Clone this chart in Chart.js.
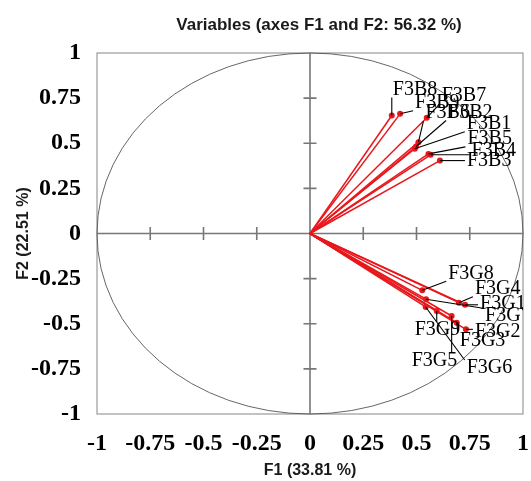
<!DOCTYPE html>
<html>
<head>
<meta charset="utf-8">
<title>Variables (axes F1 and F2)</title>
<script src="https://cdn.jsdelivr.net/npm/chart.js@4.4.1/dist/chart.umd.min.js"></script>
<style>
    html, body { margin: 0; padding: 0; background: #fff; }
    #wrap { width: 531px; height: 481px; }
</style>
</head>
<body>
<div id="wrap"><canvas id="circleChart"></canvas></div>
<script>
// loadings
const variableNames = ['F3B8', 'F3B9', 'F3B7', 'F3B6', 'F3B2', 'F3B1', 'F3B5', 'F3B4', 'F3B3',
                       'F3G8', 'F3G4', 'F3G1', 'F3G7', 'F3G6', 'F3G9', 'F3G5', 'F3G3', 'F3G2'];
const f1Values = [0.384, 0.423, 0.548, 0.509, 0.498, 0.492, 0.556, 0.566, 0.610,
                  0.527, 0.699, 0.728, 0.545, 0.543, 0.595, 0.665, 0.689, 0.732];
const f2Values = [0.654, 0.663, 0.641, 0.506, 0.482, 0.470, 0.441, 0.436, 0.404,
                  -0.315, -0.383, -0.395, -0.364, -0.407, -0.429, -0.457, -0.494, -0.531];
const axisTicks = [-1, -0.75, -0.5, -0.25, 0, 0.25, 0.5, 0.75, 1];

// where each name sits relative to its point (px: text left, text middle)
const labelOffsets = [[1, -26], [15, -11], [15, -22], [7, -29], [32, -34], [52, -25], [39, -15], [41, -4], [27, 0],
                      [26, -17], [16, -14], [15, -1], [59, 17], [41, 61], [-22, 19], [-40, 45], [3, 18], [9, 2]];

const RED = '#e8171b';
const serifBold = { family: '"Liberation Serif", "Times New Roman", serif', size: 24, weight: 'bold' };
const sansBold = { family: '"Liberation Sans", Arial, sans-serif', size: 16, weight: 'bold' };

const datasets = variableNames.map((name, i) => ({
    label: name,
    data: [{ x: 0, y: 0 }, { x: f1Values[i], y: f2Values[i] }],
    showLine: true,
    borderColor: RED,
    borderWidth: 1.5,
    pointRadius: [0, 3],
    pointBackgroundColor: RED,
    pointBorderColor: RED,
    pointBorderWidth: 0
}));

const circleDecor = {
    id: 'circleDecor',
    beforeDatasetsDraw(chart) {
        const { ctx, chartArea: a, scales: { x, y } } = chart;
        const cx = x.getPixelForValue(0), cy = y.getPixelForValue(0);
        ctx.save();

        // frame
        ctx.strokeStyle = '#9a9a9a';
        ctx.lineWidth = 1.2;
        ctx.strokeRect(a.left, a.top, a.right - a.left, a.bottom - a.top);

        // unit circle
        ctx.strokeStyle = '#555';
        ctx.lineWidth = 0.9;
        ctx.beginPath();
        ctx.ellipse(cx, cy, x.getPixelForValue(1) - cx, cy - y.getPixelForValue(1), 0, 0, Math.PI * 2);
        ctx.stroke();

        // axes through the origin with tick marks
        ctx.strokeStyle = '#777';
        ctx.lineWidth = 1.6;
        ctx.beginPath();
        ctx.moveTo(a.left, cy); ctx.lineTo(a.right, cy);
        ctx.moveTo(cx, a.top); ctx.lineTo(cx, a.bottom);
        axisTicks.forEach(v => {
            if (v === 0 || Math.abs(v) === 1) return;
            const px = x.getPixelForValue(v), py = y.getPixelForValue(v);
            ctx.moveTo(px, cy - 6.5); ctx.lineTo(px, cy + 6.5);
            ctx.moveTo(cx - 6.5, py); ctx.lineTo(cx + 6.5, py);
        });
        ctx.stroke();
        ctx.restore();
    },
    afterDatasetsDraw(chart) {
        const { ctx, chartArea: a, scales: { x, y } } = chart;
        ctx.save();
        ctx.beginPath();
        ctx.rect(a.left, a.top, a.right - a.left, a.bottom - a.top);
        ctx.clip();
        ctx.font = '20px "Liberation Serif", "Times New Roman", serif';
        ctx.textBaseline = 'middle';
        ctx.textAlign = 'left';

        variableNames.forEach((name, i) => {
            const px = x.getPixelForValue(f1Values[i]);
            const py = y.getPixelForValue(f2Values[i]);
            const tx = px + labelOffsets[i][0];
            const ty = py + labelOffsets[i][1];
            const w = ctx.measureText(name).width;
            // leader to the nearest edge of the text box
            const lx = Math.min(Math.max(px, tx - 2), tx + w);
            const ly = Math.min(Math.max(py, ty - 8), ty + 8);
            if (Math.hypot(lx - px, ly - py) > 5) {
                ctx.strokeStyle = '#000';
                ctx.lineWidth = 1.1;
                ctx.beginPath();
                ctx.moveTo(px, py);
                ctx.lineTo(lx, ly);
                ctx.stroke();
            }
            ctx.fillStyle = '#000';
            ctx.fillText(name, tx, ty);
        });
        ctx.restore();
    },
    afterDraw(chart) {
        const { ctx } = chart;
        ctx.save();
        ctx.font = 'bold 17px "Liberation Sans", Arial, sans-serif';
        ctx.fillStyle = '#1a1a1a';
        ctx.textAlign = 'center';
        ctx.textBaseline = 'middle';
        ctx.fillText('Variables (axes F1 and F2: 56.32 %)', 319, 25);
        ctx.restore();
    }
};

function fixedTicks(scale) {
    scale.ticks = axisTicks.map(v => ({ value: v }));
}

function tickText(value) {
    return String(Math.round(value * 100) / 100);
}

new Chart(document.getElementById('circleChart'), {
    type: 'scatter',
    data: { datasets: datasets },
    options: {
        responsive: true,
        maintainAspectRatio: false,
        animation: false,
        layout: { padding: { top: 53, right: 8, left: 0, bottom: 0 } },
        plugins: {
            legend: { display: false },
            tooltip: { enabled: false }
        },
        scales: {
            x: {
                type: 'linear',
                min: -1,
                max: 1,
                afterBuildTicks: fixedTicks,
                afterFit(scale) { scale.height = 67; },
                // invisible tick marks push the labels down without widening the right padding
                grid: { display: true, drawOnChartArea: false, drawTicks: true, tickLength: 15, color: 'rgba(0,0,0,0)' },
                border: { display: false },
                ticks: {
                    font: serifBold,
                    color: '#000',
                    padding: 0,
                    autoSkip: false,
                    maxRotation: 0,
                    callback: tickText
                },
                title: {
                    display: true,
                    text: 'F1 (33.81 %)',
                    font: sansBold,
                    color: '#1a1a1a',
                    padding: { top: 0, bottom: 1 }
                }
            },
            y: {
                type: 'linear',
                min: -1,
                max: 1,
                afterBuildTicks: fixedTicks,
                afterFit(scale) { scale.width = 97; },
                grid: { display: false, drawTicks: false },
                border: { display: false },
                ticks: {
                    font: serifBold,
                    color: '#000',
                    padding: 16,
                    autoSkip: false,
                    callback: tickText
                },
                title: {
                    display: true,
                    text: 'F2 (22.51 %)',
                    font: sansBold,
                    color: '#1a1a1a',
                    padding: { top: 14, bottom: 0 }
                }
            }
        }
    },
    plugins: [circleDecor]
});
</script>
</body>
</html>
